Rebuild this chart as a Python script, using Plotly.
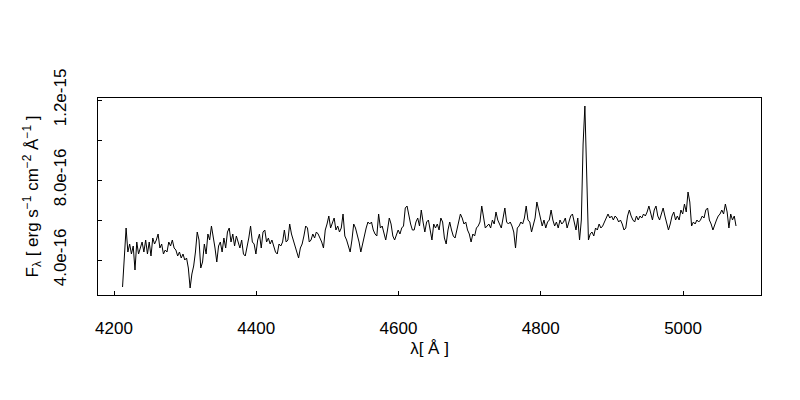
import numpy as np
import plotly.graph_objects as go

# Spectrum sampled every 2.5 Angstrom starting at 4212 A
wave_start = 4212.0
wave_step = 2.5

# Flux in units of 1e-16 erg s^-1 cm^-2 A^-1
flux_e16 = [
    2.65, 4.1, 5.6, 4.4, 4.8, 4.3, 4.7, 3.5, 4.9, 4.3,
    4.6, 4.9, 4.4, 5.0, 4.3, 4.9, 4.2, 5.1, 4.8, 5.0,
    5.3, 4.6, 4.8, 4.3, 4.5, 4.4, 4.9, 4.7, 5.0, 4.6,
    4.5, 4.2, 4.4, 4.1, 4.3, 4.0, 4.1, 3.6, 2.6, 3.3,
    3.7, 4.4, 5.4, 5.0, 3.6, 3.9, 4.8, 4.3, 5.3, 5.0,
    5.7, 5.2, 4.6, 3.9, 4.7, 4.9, 4.4, 5.1, 4.6, 5.4,
    5.6, 4.9, 5.3, 4.7, 5.2, 4.9, 4.6, 5.0, 4.3, 4.2,
    4.6, 5.1, 5.7, 4.9, 4.8, 4.3, 5.0, 5.3, 4.6, 5.4,
    5.5, 4.9, 5.1, 4.8, 5.0, 4.7, 4.4, 4.3, 4.8, 4.7,
    4.9, 5.5, 4.9, 5.0, 5.8, 5.3, 5.0, 4.6, 4.3, 4.1,
    4.6, 4.8, 5.2, 5.7, 5.6, 4.9, 5.0, 5.3, 5.1, 5.4,
    5.3, 5.1, 4.9, 4.6, 5.5, 5.8, 6.2, 5.6, 5.9, 6.1,
    5.5, 5.7, 5.4, 5.6, 6.3, 5.2, 5.0, 4.7, 4.4, 5.0,
    5.8, 5.6, 5.3, 4.9, 4.4, 4.8, 5.3, 5.6, 5.9, 5.8,
    5.9, 5.5, 5.3, 5.2, 6.3, 5.6, 5.7, 5.3, 5.0, 5.5,
    6.1, 5.8, 5.2, 5.0, 5.3, 5.5, 5.3, 5.6, 5.7, 6.6,
    6.7, 6.2, 5.8, 5.5, 5.5, 5.9, 6.1, 5.7, 6.5, 5.9,
    5.4, 5.9, 6.0, 5.5, 5.0, 5.8, 5.6, 5.8, 5.5, 6.1,
    5.9, 5.1, 4.8, 5.5, 5.9, 5.5, 5.2, 5.1, 5.6, 5.9,
    6.3, 6.1, 5.8, 5.9, 5.5, 5.3, 4.9, 5.3, 5.2, 5.6,
    5.7, 5.9, 6.7, 6.2, 5.6, 5.7, 5.8, 5.6, 6.0, 5.8,
    6.4, 6.0, 5.8, 5.6, 6.1, 6.6, 5.9, 5.8, 5.9, 5.7,
    5.4, 4.6, 5.6, 5.7, 5.9, 5.8, 6.1, 6.7, 6.0, 5.9,
    5.4, 5.8, 6.1, 6.9, 6.4, 6.1, 5.7, 6.0, 5.6, 5.9,
    6.0, 6.5, 6.0, 5.7, 5.9, 5.6, 6.0, 5.8, 5.9, 6.1,
    5.6, 5.9, 6.2, 6.3, 5.8, 5.5, 6.1, 5.0, 6.0, 9.8,
    11.7, 8.3, 5.0, 5.3, 5.4, 5.2, 5.6, 5.5, 5.8, 5.6,
    5.7, 5.9, 6.1, 6.3, 6.1, 6.2, 6.0, 6.2, 6.1, 5.9,
    6.0, 5.8, 5.5, 5.6, 6.2, 6.5, 6.2, 6.0, 5.9, 6.2,
    6.0, 6.2, 6.1, 6.3, 6.2, 6.4, 6.7, 6.3, 6.0, 6.5,
    6.7, 6.2, 6.0, 6.3, 6.6, 6.2, 5.9, 5.5, 5.8, 6.2,
    6.4, 6.0, 6.2, 6.0, 6.5, 6.3, 6.8, 6.4, 7.4, 6.9,
    5.7, 5.9, 5.8, 6.0, 5.9, 6.0, 6.2, 6.1, 6.5, 6.6,
    6.0, 5.8, 5.5, 5.8, 6.0, 6.2, 6.3, 6.5, 6.3, 6.8,
    6.4, 5.6, 6.3, 6.0, 6.2, 5.7,
]

x_tick_vals = [4200, 4400, 4600, 4800, 5000]
y_tick_vals = [4e-16, 8e-16, 1.2e-15]
y_tick_text = ["4.0e-16", "8.0e-16", "1.2e-15"]

wavelength = wave_start + wave_step * np.arange(len(flux_e16))
flux = np.array(flux_e16) * 1e-16

fig = go.Figure()
fig.add_trace(go.Scatter(x=wavelength, y=flux, mode="lines",
                         line=dict(color="black", width=1), showlegend=False))

font = dict(family="Liberation Sans, Arial, Helvetica, sans-serif", size=17, color="black")

fig.update_layout(
    width=800, height=400,
    margin=dict(l=90, r=47, t=90, b=113),
    paper_bgcolor="white", plot_bgcolor="white",
    font=font,
)
fig.update_xaxes(
    range=[4177.5, 5109.6], tickvals=x_tick_vals,
    ticks="inside", ticklen=4, tickcolor="black", tickwidth=1,
    showline=True, linecolor="black", linewidth=1, mirror=True,
    showgrid=False, zeroline=False,
    ticklabelstandoff=18,
    title=dict(text="λ[ Å ]", standoff=4, font=font),
)
fig.update_yaxes(
    range=[2.25e-16, 1.21e-15], tickvals=y_tick_vals, ticktext=y_tick_text,
    tickangle=-90,
    ticks="inside", ticklen=4, tickcolor="black", tickwidth=1,
    minor=dict(tick0=0, dtick=2e-16, ticks="inside", ticklen=4,
               tickcolor="black", tickwidth=1, showgrid=False),
    showline=True, linecolor="black", linewidth=1, mirror=True,
    showgrid=False, zeroline=False,
    ticklabelstandoff=24,
    title=dict(text="F<sub>λ</sub> [ erg s<sup>−1</sup> cm<sup>−2</sup> Å<sup>−1</sup> ]",
               standoff=8, font=font),
)

fig.write_html("out.html")
